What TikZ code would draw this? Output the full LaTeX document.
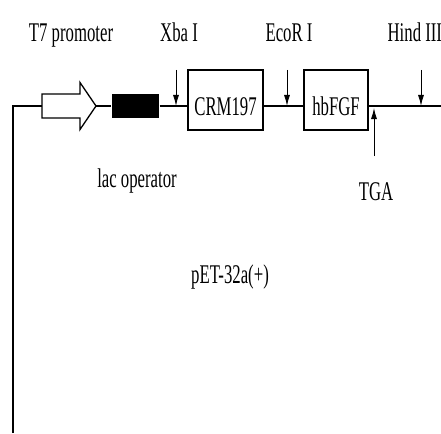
\documentclass[tikz,border=0pt]{standalone}
\usepackage{fontspec}
\setmainfont{Liberation Serif}[FakeStretch=0.62]
\usetikzlibrary{arrows.meta}
\begin{document}
\begin{tikzpicture}[x=1pt, y=-1pt, line width=1.3pt,
  font=\fontsize{27}{30}\selectfont,
  gene/.style={draw, minimum height=60pt, inner sep=0pt, text height=30pt, text depth=0pt},
  site/.style={-{Latex[length=11pt,width=6pt]}, line width=0.9pt},
  lbl/.style={anchor=base, inner sep=0pt}]
  \useasboundingbox (0,0) rectangle (441,433);
  % elements on the construct
  \coordinate (t7tail) at (42,106);
  \coordinate (t7tip) at (96,106);
  \draw (t7tail) ++(0,-12) -- ++(38,0) -- ++(0,-11.5) -- (t7tip)
    -- ++(-16,23.5) -- ++(0,-11.5) -- ++(-38,0) -- cycle;
  \node[fill, minimum width=47pt, minimum height=24pt, inner sep=0pt] (lacop) at (135.5,106) {};
  \node[gene, minimum width=75pt] (crm) at (225.5,100) {CRM197};
  \node[gene, minimum width=64pt] (bfgf) at (336,100) {hbFGF};
  % backbone
  \coordinate (corner) at (13,106);
  \coordinate (foot) at (13,433);
  \coordinate (rend) at (441,106);
  \draw (foot) -- (corner) -- (t7tail);
  \draw (t7tip) -- (lacop.west);
  \draw (lacop.east) -- (crm.west |- corner);
  \draw (crm.east |- corner) -- (bfgf.west |- corner);
  \draw (bfgf.east |- corner) -- (rend);
  % restriction sites
  \foreach \name/\x in {xba/176, eco/287, hind/421} {
    \coordinate (\name) at (\x,70);
    \draw[site] (\name) -- (\name |- corner);
  }
  \coordinate (tga) at (374,156);
  \coordinate (tgatip) at (374,108);
  \draw[site] (tga) -- (tgatip);
  % labels
  \node[lbl] (t7lab) at (71,42) {T7 promoter};
  \node[lbl] (xbalab) at (179,42) {Xba I};
  \node[lbl] (ecolab) at (289,42) {EcoR I};
  \node[lbl, anchor=base west] (hindlab) at (387,42) {Hind III};
  \node[lbl] (laclab) at (137,187) {lac operator};
  \node[lbl] (tgalab) at (376,200) {TGA};
  \node[lbl] (vector) at (230,283) {pET-32a(+)};
\end{tikzpicture}
\end{document}
